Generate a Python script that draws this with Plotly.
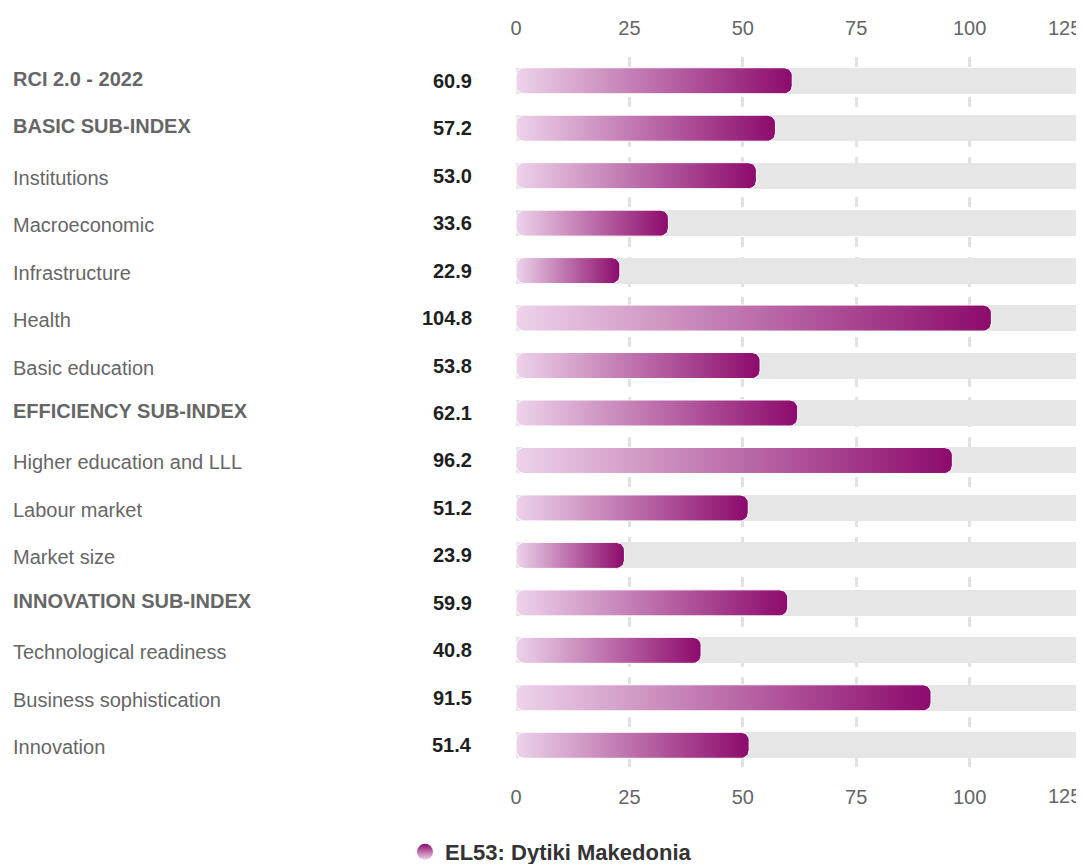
import numpy as np
import plotly.graph_objects as go

# data
labels = ["RCI 2.0 - 2022", "BASIC SUB-INDEX", "Institutions", "Macroeconomic",
          "Infrastructure", "Health", "Basic education", "EFFICIENCY SUB-INDEX",
          "Higher education and LLL", "Labour market", "Market size",
          "INNOVATION SUB-INDEX", "Technological readiness",
          "Business sophistication", "Innovation"]
values = [60.9, 57.2, 53.0, 33.6, 22.9, 104.8, 53.8, 62.1, 96.2, 51.2, 23.9,
          59.9, 40.8, 91.5, 51.4]
headline = [True, True, False, False, False, False, False, True, False, False,
            False, True, False, False, False]
tick_vals = [0, 25, 50, 75, 100, 125]
region_name = "EL53: Dytiki Makedonia"
x_max = 125

# the page body adds an 8px margin, so the figure is 8px smaller each way
W, H = 1076, 856
M_L, M_R, M_T, M_B = 508, 1, 49, 95
FONT = "Liberation Sans, Arial, sans-serif"
PALE, DARK = "#edd3ea", "#8c0a6c"

plot_w = W - M_L - M_R
plot_h = H - M_T - M_B
n = len(labels)
px_x = plot_w / x_max          # px per x unit
px_y = plot_h / n              # px per row
half = 13 / px_y               # bar half thickness in row units
rx, ry = 8 / px_x, 8 / px_y    # corner radius


def capsule(v, i):
    t = np.linspace(0, np.pi / 2, 10)
    xs, ys = [], []
    corners = [(rx, i - half + ry, np.pi), (v - rx, i - half + ry, 1.5 * np.pi),
               (v - rx, i + half - ry, 0), (rx, i + half - ry, 0.5 * np.pi)]
    for cx, cy, a0 in corners:
        xs += list(cx + rx * np.cos(a0 + t))
        ys += list(cy + ry * np.sin(a0 + t))
    return xs + [xs[0]], ys + [ys[0]]


fig = go.Figure()

# grey track behind each bar
fig.add_trace(go.Bar(
    x=[x_max] * n, y=list(range(n)), orientation="h", width=2 * half,
    marker=dict(color="#e6e6e6", line=dict(width=0)),
    showlegend=False, hoverinfo="skip"))

for i, v in enumerate(values):
    xs, ys = capsule(v, i)
    fig.add_trace(go.Scatter(
        x=xs, y=ys, mode="lines", fill="toself",
        line=dict(color="white", width=1),
        fillgradient=dict(type="horizontal", colorscale=[[0, PALE], [1, DARK]]),
        showlegend=False, hoverinfo="skip"))

# legend entry
fig.add_trace(go.Scatter(
    x=[None], y=[None], mode="markers", name=region_name, xaxis="x2",
    marker=dict(symbol="circle", size=22, color=DARK,
                gradient=dict(type="vertical", color=PALE), line=dict(width=0))))

annotations = []
for i, (lab, v, hl) in enumerate(zip(labels, values, headline)):
    annotations.append(dict(
        x=(3 - M_L) / plot_w, xref="paper", y=i, yref="y",
        xanchor="left", yanchor="middle", showarrow=False,
        yshift=2 if hl else -2,
        text=f"<b>{lab}</b>" if hl else lab,
        font=dict(family=FONT, size=20, color="#666666")))
    annotations.append(dict(
        x=-42 / plot_w, xref="paper", y=i, yref="y",
        xanchor="right", yanchor="middle", showarrow=False,
        text=f"<b>{v:.1f}</b>",
        font=dict(family=FONT, size=20, color="#1f1f1f")))

# last tick label pulled inside the chart
for yp, ys in [(1, 29), (0, -27)]:
    annotations.append(dict(
        x=tick_vals[-1], xref="x", y=yp, yref="paper", yshift=ys,
        xanchor="right", yanchor="middle", showarrow=False,
        text=str(tick_vals[-1]), font=dict(family=FONT, size=20, color="#666666")))

tick_text = [str(t) for t in tick_vals[:-1]] + [""]
axis_common = dict(
    range=[0, x_max], tickvals=tick_vals, ticktext=tick_text, ticks="",
    tickfont=dict(family=FONT, size=20, color="#666666"), zeroline=False,
    showline=False, fixedrange=True)

fig.update_layout(
    width=W, height=H,
    margin=dict(l=M_L, r=M_R, t=M_T, b=M_B),
    paper_bgcolor="white", plot_bgcolor="white",
    xaxis=dict(**axis_common, showgrid=True, gridcolor="#e2e2e2", gridwidth=3,
               griddash="10px,10px", side="bottom", ticklabelstandoff=14),
    xaxis2=dict(**axis_common, showgrid=False, overlaying="x", side="top",
                matches="x", ticklabelstandoff=17),
    yaxis=dict(range=[n - 0.5, -0.5], showgrid=False, zeroline=False,
               showticklabels=False, showline=False, fixedrange=True),
    bargap=0, barmode="overlay",
    showlegend=True,
    legend=dict(orientation="h", x=(543 - M_L) / plot_w, xanchor="center",
                y=12 / H, yref="container", yanchor="middle",
                font=dict(family=FONT, size=22, color="#333333", weight="bold"),
                bgcolor="rgba(0,0,0,0)"),
    annotations=annotations,
)

fig.write_html("out.html")
